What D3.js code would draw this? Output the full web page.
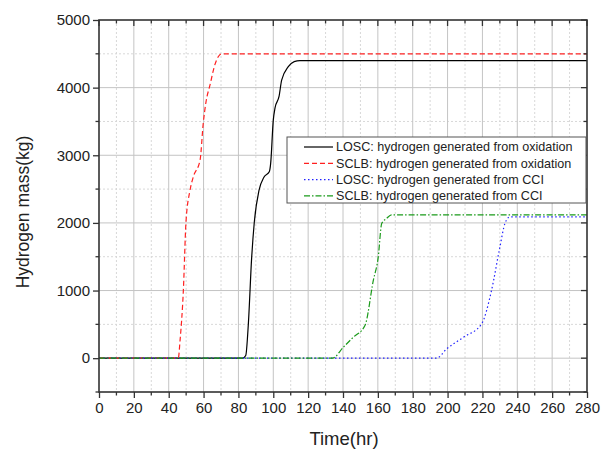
<!DOCTYPE html>
<html>
<head>
<meta charset="utf-8">
<script src="https://cdn.jsdelivr.net/npm/d3@7"></script>
<style>
  body { margin: 0; background: #fff; }
  text { font-family: "Liberation Sans", Arial, sans-serif; fill: #222; }
</style>
</head>
<body>
<div id="chart"></div>
<script>
// data: [time (hr), hydrogen mass (kg)]
var loscOxidation = [[0, 0], [82.4, 0], [84.2, 40], [85.7, 510], [87.6, 1490], [89.1, 2010],
  [91.8, 2480], [94.7, 2680], [97.7, 2755], [98.5, 2880], [100, 3520], [101, 3700],
  [103.3, 3870], [104.8, 4110], [108.6, 4310], [112, 4385], [115.3, 4400], [280, 4400]];
var sclbOxidation = [[0, 0], [45.5, 0], [46.5, 260], [48.4, 1000], [49.9, 2010], [52.2, 2480],
  [54.1, 2680], [58, 2930], [59.8, 3470], [61.4, 3790], [63.7, 4040], [66.5, 4340],
  [68.5, 4460], [70.4, 4500], [280, 4500]];
var loscCci = [[0, 0], [193.7, 0], [199.4, 136], [209, 308], [219.5, 507], [225.2, 1000],
  [230, 1640], [232.9, 1990], [235.8, 2090], [280, 2090]];
var sclbCci = [[0, 0], [134, 0], [140.1, 160], [145.8, 308], [152.6, 482], [157.4, 1150],
  [160.2, 1490], [162.2, 1990], [165, 2065], [167.8, 2120], [280, 2120]];

var seriesNames = ["LOSC: hydrogen generated from oxidation", "SCLB: hydrogen generated from oxidation",
  "LOSC: hydrogen generated from CCI", "SCLB: hydrogen generated from CCI"];
var seriesData = [loscOxidation, sclbOxidation, loscCci, sclbCci];
var seriesColors = ["#000000", "#ff2020", "#2020ff", "#1a9a1a"];
var seriesDash = [null, "5,3", "1.5,2.5", "6,2,1.5,2"];

var xTicks = d3.range(0, 281, 20);
var yTicks = d3.range(0, 5001, 1000);

var svgWidth = 602;
var svgHeight = 452;
var margin = { top: 20, right: 15, bottom: 60, left: 99 };
var width = 587 - margin.left;
var height = 392 - margin.top;

var svg = d3.select("#chart").append("svg")
  .attr("width", svgWidth)
  .attr("height", svgHeight);

var chartGroup = svg.append("g")
  .attr("transform", `translate(${margin.left}, ${margin.top})`);

var x = d3.scaleLinear().domain([0, 280]).range([0, width]);
var y = d3.scaleLinear().domain([-500, 5000]).range([height, 0]);

// minor grid (dotted)
chartGroup.append("g").selectAll("line")
  .data(d3.range(10, 280, 20))
  .enter().append("line")
  .attr("x1", d => x(d)).attr("x2", d => x(d))
  .attr("y1", 0).attr("y2", height)
  .attr("stroke", "#d8d8d8").attr("stroke-dasharray", "2,2");
chartGroup.append("g").selectAll("line")
  .data(d3.range(500, 5000, 1000))
  .enter().append("line")
  .attr("x1", 0).attr("x2", width)
  .attr("y1", d => y(d)).attr("y2", d => y(d))
  .attr("stroke", "#d8d8d8").attr("stroke-dasharray", "2,2");

// major grid
chartGroup.append("g").selectAll("line")
  .data(xTicks.slice(1, -1))
  .enter().append("line")
  .attr("x1", d => x(d)).attr("x2", d => x(d))
  .attr("y1", 0).attr("y2", height)
  .attr("stroke", "#c4c4c4");
chartGroup.append("g").selectAll("line")
  .data(yTicks.slice(0, -1))
  .enter().append("line")
  .attr("x1", 0).attr("x2", width)
  .attr("y1", d => y(d)).attr("y2", d => y(d))
  .attr("stroke", "#c4c4c4");

// lines
var line = d3.line()
  .x(d => x(d[0]))
  .y(d => y(d[1]))
  .curve(d3.curveMonotoneX);

seriesData.forEach(function(data, i) {
  chartGroup.append("path")
    .datum(data)
    .attr("fill", "none")
    .attr("stroke", seriesColors[i])
    .attr("stroke-width", 1.2)
    .attr("stroke-dasharray", seriesDash[i])
    .attr("d", line);
});

// axes
var bottomAxis = d3.axisBottom(x).tickValues(xTicks).tickSize(6).tickPadding(4)
  .tickFormat(d3.format("d"));
var leftAxis = d3.axisLeft(y).tickValues(yTicks).tickSize(6).tickPadding(3)
  .tickFormat(d3.format("d"));

var xAxis = chartGroup.append("g")
  .attr("transform", `translate(0, ${height})`)
  .call(bottomAxis);
var yAxis = chartGroup.append("g").call(leftAxis);

[xAxis, yAxis].forEach(function(ax) {
  ax.select(".domain").remove();
  ax.selectAll("line").attr("stroke", "#333").attr("stroke-width", 1.3);
  ax.selectAll("text").attr("font-size", "15px").attr("fill", "#222")
    .style("font-family", "'Liberation Sans', Arial, sans-serif");
});

// minor ticks
chartGroup.append("g").selectAll("line")
  .data(d3.range(10, 280, 20))
  .enter().append("line")
  .attr("x1", d => x(d)).attr("x2", d => x(d))
  .attr("y1", height).attr("y2", height + 3.5)
  .attr("stroke", "#333").attr("stroke-width", 1.3);
chartGroup.append("g").selectAll("line")
  .data(d3.range(-500, 5000, 1000))
  .enter().append("line")
  .attr("x1", -3.5).attr("x2", 0)
  .attr("y1", d => y(d)).attr("y2", d => y(d))
  .attr("stroke", "#333").attr("stroke-width", 1.3);

// top and right ticks pointing inward
chartGroup.append("g").selectAll("line")
  .data(d3.range(0, 281, 10))
  .enter().append("line")
  .attr("x1", d => x(d)).attr("x2", d => x(d))
  .attr("y1", 0).attr("y2", d => d % 20 === 0 ? 6 : 3.5)
  .attr("stroke", "#333").attr("stroke-width", 1.3);
chartGroup.append("g").selectAll("line")
  .data(d3.range(-500, 5001, 500))
  .enter().append("line")
  .attr("x1", width).attr("x2", d => width - (d % 1000 === 0 ? 6 : 3.5))
  .attr("y1", d => y(d)).attr("y2", d => y(d))
  .attr("stroke", "#333").attr("stroke-width", 1.3);

// frame
chartGroup.append("rect")
  .attr("width", width).attr("height", height)
  .attr("fill", "none").attr("stroke", "#333").attr("stroke-width", 1.6);

// axis titles
svg.append("text")
  .attr("x", 344)
  .attr("y", 445)
  .attr("text-anchor", "middle")
  .attr("font-size", "18.5px")
  .text("Time(hr)");

svg.append("text")
  .attr("transform", "rotate(-90)")
  .attr("x", -212)
  .attr("y", 29)
  .attr("text-anchor", "middle")
  .attr("font-size", "17.5px")
  .text("Hydrogen mass(kg)");

// legend
var legend = chartGroup.append("g")
  .attr("transform", `translate(${287 - margin.left}, ${137 - margin.top})`);
legend.append("rect")
  .attr("width", 299).attr("height", 66)
  .attr("fill", "#fff").attr("stroke", "#555").attr("stroke-width", 1);

seriesNames.forEach(function(name, i) {
  var row = legend.append("g").attr("transform", `translate(0, ${10 + i * 16.3})`);
  row.append("line")
    .attr("x1", 17).attr("x2", 46)
    .attr("stroke", seriesColors[i])
    .attr("stroke-width", 1.2)
    .attr("stroke-dasharray", seriesDash[i]);
  row.append("text")
    .attr("x", 49).attr("dy", "0.35em")
    .attr("font-size", "12.6px")
    .text(name);
});
</script>
</body>
</html>
